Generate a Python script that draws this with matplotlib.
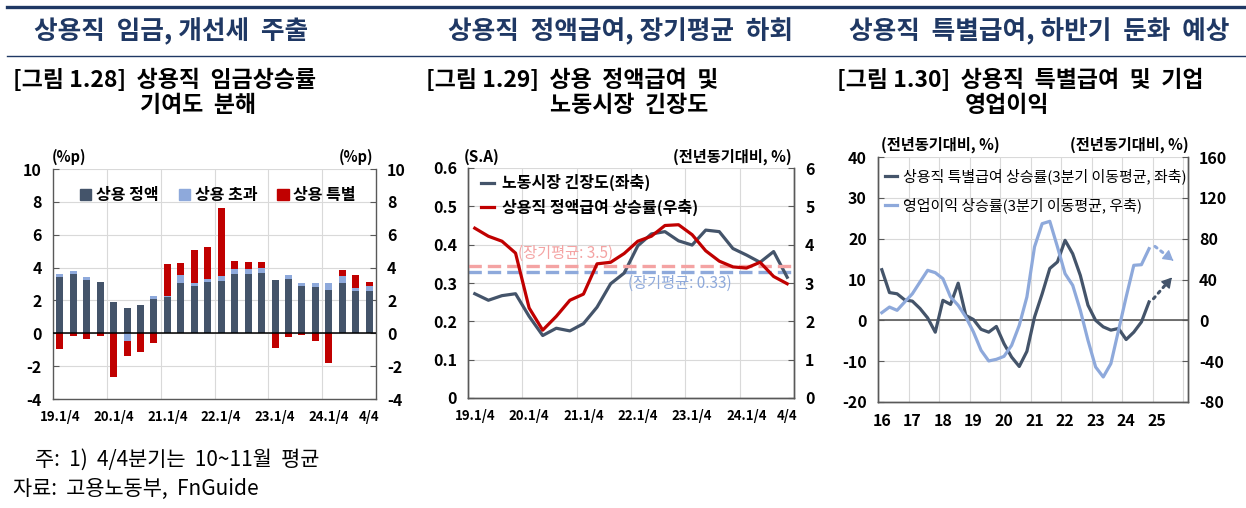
import matplotlib.pyplot as plt
import numpy as np
from matplotlib.lines import Line2D
from matplotlib.patches import Patch

plt.rcParams['font.family'] = ['Noto Sans CJK KR', 'DejaVu Sans']
plt.rcParams['axes.unicode_minus'] = False

W, H = 1246, 508

# ---- data ----
qtr_labels = ["19.1/4", "20.1/4", "21.1/4", "22.1/4", "23.1/4", "24.1/4", "4/4"]
qtr_label_pos = [0, 4, 8, 12, 16, 20, 23]

# 상용직 임금상승률 기여도 (%p), 19.1/4 ~ 24.4/4
wage_regular = [3.41, 3.61, 3.24, 3.12, 1.88, 1.53, 1.71, 2.10, 2.18, 3.08, 2.90, 3.12,
                3.18, 3.58, 3.58, 3.70, 3.24, 3.31, 2.90, 2.82, 2.63, 3.04, 2.55, 2.59]
wage_overtime = [0.18, 0.17, 0.17, 0.03, 0.04, -0.45, 0.02, 0.17, 0.06, 0.47, 0.18, 0.17,
                 0.31, 0.36, 0.36, 0.28, 0.02, 0.24, 0.14, 0.24, 0.41, 0.45, 0.18, 0.29]
wage_special = [-0.98, -0.16, -0.35, -0.18, -2.69, -0.96, -1.12, -0.57, 1.96, 0.70, 2.02, 1.97,
                4.11, 0.45, 0.37, 0.35, -0.90, -0.20, -0.08, -0.45, -1.82, 0.39, 0.80, 0.22]

# 노동시장 긴장도 (좌축), 상용직 정액급여 상승률 (우축, %)
tightness = [0.272, 0.255, 0.267, 0.272, 0.213, 0.163, 0.182, 0.175, 0.194, 0.237, 0.298, 0.326,
             0.397, 0.428, 0.434, 0.410, 0.399, 0.438, 0.434, 0.390, 0.373, 0.354, 0.382, 0.315]
regular_pay = [4.43, 4.22, 4.09, 3.78, 2.35, 1.77, 2.13, 2.55, 2.71, 3.50, 3.54, 3.77,
               4.09, 4.22, 4.50, 4.52, 4.26, 3.84, 3.57, 3.42, 3.39, 3.54, 3.17, 2.98]
tightness_avg = 0.33
regular_pay_avg = 3.45

# 3분기 이동평균: 특별급여 상승률 (좌축), 영업이익 상승률 (우축), 16.1/4 ~ 24.4/4
special_pay = [12.4, 6.8, 6.5, 5.0, 4.7, 2.9, 0.6, -2.9, 4.9, 3.9, 9.1, 1.2,
               0.2, -2.2, -2.9, -1.5, -5.7, -9.0, -11.3, -7.6, 0.8, 6.5, 12.7, 14.3,
               19.6, 16.3, 11.0, 3.7, 0.0, -1.6, -2.4, -2.0, -4.7, -2.9, -0.4, 4.5]
op_profit = [7.5, 13.0, 9.8, 18.0, 26.0, 37.6, 49.0, 46.7, 40.8, 22.9, 14.7, 3.3,
             -11.4, -29.4, -39.8, -38.2, -35.3, -24.5, -4.9, 22.9, 72.0, 94.7, 97.0, 72.0,
             45.7, 34.3, 9.8, -19.6, -45.7, -55.5, -42.4, -9.8, 22.9, 53.9, 54.5, 70.2]
years = list(range(16, 26))

navy = '#1F3864'
c_dark = '#44546A'
c_light = '#8EA9DB'
c_red = '#C00000'
c_pink = '#F4A3A3'
c_grid = '#D9D9D9'
c_spine = '#595959'

fig = plt.figure(figsize=(W / 100, H / 100), dpi=100)


def add_ax(l, t, r, b):
    return fig.add_axes([l / W, 1 - b / H, (r - l) / W, (b - t) / H])


def ftext(x, y, s, **kw):
    fig.text(x / W, 1 - y / H, s, **kw)


def style_ax(ax):
    ax.spines['top'].set_visible(False)
    for s in ['left', 'right', 'bottom']:
        ax.spines[s].set_color(c_spine)
        ax.spines[s].set_linewidth(1.0)
    ax.tick_params(axis='y', direction='in', length=4, color=c_spine, labelsize=11.5, pad=8)
    ax.tick_params(axis='x', length=0, labelsize=9.5, pad=8)
    for lab in ax.get_xticklabels() + ax.get_yticklabels():
        lab.set_fontweight('bold')
    ax.set_axisbelow(True)


# ---- header ----
fig.add_artist(Line2D([7 / W, 1], [1 - 6.5 / H] * 2, lw=2.4, color=navy))
fig.add_artist(Line2D([7 / W, 1], [1 - 56 / H] * 2, lw=1.0, color=navy))
head_kw = dict(fontsize=18.5, fontweight='bold', color=navy, ha='center', va='center')
ftext(171, 32, "상용직  임금, 개선세  주출", **head_kw)
ftext(620, 32, "상용직  정액급여, 장기평균  하회", **head_kw)
ftext(1039, 32, "상용직  특별급여, 하반기  둔화  예상", **head_kw)

sub_kw = dict(fontsize=16.5, fontweight='bold', color='black', ha='left', va='center')
ftext(13, 80, "[그림 1.28]  상용직  임금상승률", **sub_kw)
ftext(140, 106, "기여도  분해", **sub_kw)
ftext(426, 80, "[그림 1.29]  상용  정액급여  및", **sub_kw)
ftext(550, 106, "노동시장  긴장도", **sub_kw)
ftext(837, 80, "[그림 1.30]  상용직  특별급여  및  기업", **sub_kw)
ftext(965, 106, "영업이익", **sub_kw)

# ---- chart 1: stacked bars ----
ax1 = add_ax(53, 169, 376, 399)
x = np.arange(len(wage_regular))
pos_base = np.zeros(len(x))
neg_base = np.zeros(len(x))
for vals, col in [(wage_regular, c_dark), (wage_overtime, c_light), (wage_special, c_red)]:
    v = np.array(vals)
    bottom = np.where(v >= 0, pos_base, neg_base)
    ax1.bar(x, v, 0.52, bottom=bottom, color=col, zorder=2)
    pos_base += np.clip(v, 0, None)
    neg_base += np.clip(v, None, 0)
ax1.axhline(0, color='black', lw=1.1, zorder=3)
ax1.set_xlim(-0.5, 23.5)
ax1.set_ylim(-4, 10)
ax1.set_yticks(range(-4, 11, 2))
ax1.set_xticks(qtr_label_pos)
ax1.set_xticklabels(qtr_labels)
ax1.set_xticks([3.5, 7.5, 11.5, 15.5, 19.5], minor=True)
ax1.tick_params(axis='x', which='minor', length=0)
ax1.grid(True, axis='y', color=c_grid, lw=0.8)
ax1.grid(True, axis='x', which='minor', color=c_grid, lw=0.8)
ax1.tick_params(axis='y', right=True, labelright=True)
style_ax(ax1)
ax1.legend(handles=[Patch(color=c_dark, label='상용 정액'),
                    Patch(color=c_light, label='상용 초과'),
                    Patch(color=c_red, label='상용 특별')],
           ncol=3, frameon=False, loc='upper left', bbox_to_anchor=(0.04, 0.985),
           handlelength=0.7, handleheight=0.7, handletextpad=0.3, columnspacing=1.25,
           prop=dict(size=11.5, weight='bold'))
ftext(69, 157, "(%p)", fontsize=10.5, fontweight='bold', ha='center', va='center')
ftext(356, 157, "(%p)", fontsize=10.5, fontweight='bold', ha='center', va='center')

# ---- chart 2: lines on two axes ----
ax2 = add_ax(468, 168, 794, 398)
ax2r = ax2.twinx()
ax2.plot(x, tightness, color=c_dark, lw=2.3, zorder=3)
ax2r.plot(x, regular_pay, color=c_red, lw=2.3, zorder=3)
ax2.axhline(tightness_avg, color=c_light, lw=2.4, ls=(0, (4, 1.8)), zorder=2)
ax2r.axhline(regular_pay_avg, color=c_pink, lw=2.4, ls=(0, (4, 1.8)), zorder=2)
ax2r.text(6.7, 3.77, "(장기평균: 3.5)", color=c_pink, fontsize=11, ha='center', va='center')
ax2.text(15.1, 0.298, "(장기평균: 0.33)", color=c_light, fontsize=11, ha='center', va='center')
ax2.set_xlim(-0.5, 23.5)
ax2.set_ylim(0, 0.6)
ax2.set_yticks(np.arange(0, 0.61, 0.1))
ax2.set_yticklabels(["0", "0.1", "0.2", "0.3", "0.4", "0.5", "0.6"])
ax2r.set_ylim(0, 6)
ax2r.set_yticks(range(0, 7))
ax2.set_xticks(qtr_label_pos)
ax2.set_xticklabels(qtr_labels)
ax2.set_xticks([3.5, 7.5, 11.5, 15.5, 19.5], minor=True)
ax2.tick_params(axis='x', which='minor', length=0)
ax2.grid(True, axis='y', color=c_grid, lw=0.8)
ax2.grid(True, axis='x', which='minor', color=c_grid, lw=0.8)
style_ax(ax2)
style_ax(ax2r)
ax2r.legend(handles=[Line2D([], [], color=c_dark, lw=2.3, label='노동시장 긴장도(좌축)'),
                     Line2D([], [], color=c_red, lw=2.3, label='상용직 정액급여 상승률(우축)')],
            frameon=False, loc='upper left', bbox_to_anchor=(-0.005, 1.035),
            handlelength=0.8, handletextpad=0.5, labelspacing=0.45,
            prop=dict(size=11.5, weight='bold'))
ftext(482, 157, "(S.A)", fontsize=11, fontweight='bold', ha='center', va='center')
ftext(732, 157, "(전년동기대비, %)", fontsize=11, fontweight='bold', ha='center', va='center')

# ---- chart 3 ----
ax3 = add_ax(878, 157, 1188, 402)
ax3r = ax3.twinx()
xq = 16 + (np.arange(len(special_pay)) + 0.5) / 4
ax3.plot(xq, special_pay, color=c_dark, lw=2.3, zorder=3)
ax3r.plot(xq, op_profit, color=c_light, lw=2.3, zorder=3)
ax3.axhline(0, color=c_spine, lw=1.2, zorder=2)
# dotted outlook arrows
ax3.plot([25.02, 25.55], [5.3, 9.9], color=c_dark, lw=2.2, ls=(0, (0.8, 1.6)),
         dash_capstyle='round')
ax3.annotate('', xy=(25.68, 11.0), xytext=(25.52, 9.6),
             arrowprops=dict(arrowstyle='-|>,head_length=0.6,head_width=0.35',
                             color=c_dark, lw=1.0))
ax3r.plot([25.07, 25.6], [72.4, 60.0], color=c_light, lw=2.2, ls=(0, (0.8, 1.6)),
          dash_capstyle='round')
ax3r.annotate('', xy=(25.74, 56.8), xytext=(25.57, 60.8),
              arrowprops=dict(arrowstyle='-|>,head_length=0.6,head_width=0.35',
                              color=c_light, lw=1.0))
ax3.set_xlim(16, 26.15)
ax3.set_ylim(-20, 40)
ax3.set_yticks(range(-20, 41, 10))
ax3r.set_ylim(-80, 160)
ax3r.set_yticks(range(-80, 161, 40))
ax3.set_xticks([y + 0.125 for y in years])
ax3.set_xticklabels([str(y) for y in years])
ax3.set_xticks(range(17, 27), minor=True)
ax3.tick_params(axis='x', which='minor', length=0)
ax3.grid(True, axis='y', color=c_grid, lw=0.8)
ax3.grid(True, axis='x', which='minor', color=c_grid, lw=0.8)
style_ax(ax3)
style_ax(ax3r)
ax3.tick_params(axis='x', labelsize=11.5)
ax3r.legend(handles=[Line2D([], [], color=c_dark, lw=2.3, label='상용직 특별급여 상승률(3분기 이동평균, 좌축)'),
                     Line2D([], [], color=c_light, lw=2.3, label='영업이익 상승률(3분기 이동평균, 우축)')],
            frameon=False, loc='upper left', bbox_to_anchor=(-0.02, 1.01),
            handlelength=0.8, handletextpad=0.4, labelspacing=0.9,
            prop=dict(size=10.8))
ftext(940, 145, "(전년동기대비, %)", fontsize=11, fontweight='bold', ha='center', va='center')
ftext(1129, 145, "(전년동기대비, %)", fontsize=11, fontweight='bold', ha='center', va='center')

# ---- footer ----
ftext(35, 460, "주:  1)  4/4분기는  10~11월  평균", fontsize=15, ha='left', va='center')
ftext(13, 489, "자료:  고용노동부,  FnGuide", fontsize=15, ha='left', va='center')

fig.savefig('out.png', dpi=100)
